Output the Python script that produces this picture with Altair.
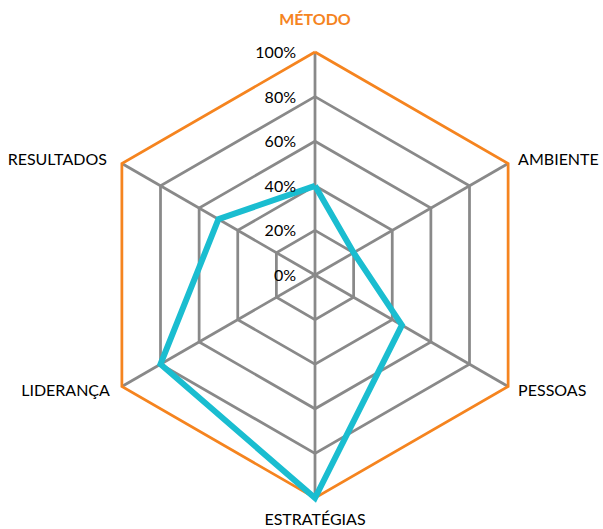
import altair as alt
import pandas as pd

categories = ["MÉTODO", "AMBIENTE", "PESSOAS", "ESTRATÉGIAS", "LIDERANÇA", "RESULTADOS"]
values = [0.40, 0.20, 0.45, 1.00, 0.80, 0.50]
levels = [0.2, 0.4, 0.6, 0.8, 1.0]
tick_labels = ["0%", "20%", "40%", "60%", "80%", "100%"]
tick_values = [0.0, 0.2, 0.4, 0.6, 0.8, 1.0]

n = len(categories)
data_df = pd.DataFrame({
    "cat": categories + [categories[0]],
    "value": values + [values[0]],
    "idx": list(range(n)) + [n],
})
grid_df = pd.DataFrame([{"level": l, "idx": i} for l in levels for i in range(n + 1)])
spoke_df = pd.DataFrame({"idx": list(range(n))})
label_df = pd.DataFrame({"cat": categories, "idx": list(range(n))})
tick_df = pd.DataFrame({"t": tick_labels, "v": tick_values})

XS = alt.Scale(domain=[-1.4126, 1.2915])
YS = alt.Scale(domain=[-1.139, 1.2332])
ANG = "PI/2 - datum.idx*PI/3"
FONT = "Lato"
GRAY = "#898989"
ORANGE = "#F5841F"
CYAN = "#1ABDD0"

def xy():
    return dict(
        x=alt.X("px:Q", scale=XS, axis=None),
        y=alt.Y("py:Q", scale=YS, axis=None),
    )

grid = alt.Chart(grid_df).transform_filter("datum.level < 1").transform_calculate(
    px=f"datum.level*cos({ANG})", py=f"datum.level*sin({ANG})"
).mark_line(color=GRAY, strokeWidth=2.75, strokeJoin="miter").encode(
    detail="level:N", order="idx:Q", **xy()
)

outer = alt.Chart(grid_df).transform_filter("datum.level == 1").transform_calculate(
    px=f"datum.level*cos({ANG})", py=f"datum.level*sin({ANG})"
).mark_line(color=ORANGE, strokeWidth=2.75, strokeJoin="miter").encode(
    detail="level:N", order="idx:Q", **xy()
)

spokes = alt.Chart(spoke_df).transform_calculate(
    px="0", py="0", px2=f"cos({ANG})", py2=f"sin({ANG})"
).mark_rule(color=GRAY, strokeWidth=2.75).encode(
    x=alt.X("px:Q", scale=XS, axis=None),
    y=alt.Y("py:Q", scale=YS, axis=None),
    x2="px2:Q", y2="py2:Q",
)

series = alt.Chart(data_df).transform_calculate(
    px=f"datum.value*cos({ANG})", py=f"datum.value*sin({ANG})"
).mark_line(color=CYAN, strokeWidth=6, strokeJoin="miter").encode(
    order="idx:Q", **xy()
)

ticks = alt.Chart(tick_df).transform_calculate(px="0", py="datum.v").mark_text(
    align="right", baseline="middle", dx=-19, dy=1, font=FONT, fontSize=16, color="#000000"
).encode(text="t:N", **xy())

def lab(cats, **kw):
    flt = alt.FieldOneOfPredicate(field="cat", oneOf=cats)
    return alt.Chart(label_df).transform_filter(flt).transform_calculate(
        px=f"cos({ANG})", py=f"sin({ANG})"
    ).mark_text(baseline="middle", font=FONT, fontSize=16, **kw).encode(text="cat:N", **xy())

lab_top = lab(["MÉTODO"], align="center", dy=-32, color=ORANGE, fontWeight="bold")
lab_bot = lab(["ESTRATÉGIAS"], align="center", dy=22, color="#000000")
lab_amb = lab(["AMBIENTE"], align="left", dx=10, dy=-4, color="#000000")
lab_pes = lab(["PESSOAS"], align="left", dx=10, dy=4, color="#000000")
lab_res = lab(["RESULTADOS"], align="right", dx=-15, dy=-4, color="#000000")
lab_lid = lab(["LIDERANÇA"], align="right", dx=-12, dy=4, color="#000000")

chart = alt.layer(
    grid, spokes, outer, series, ticks, lab_top, lab_bot, lab_amb, lab_pes, lab_res, lab_lid
).properties(
    width=603, height=529, autosize=alt.AutoSizeParams(type="none"), padding=0,
    background="white"
).configure_view(stroke=None)

chart.save("out.html", embed_options={"renderer": "svg", "actions": False})
